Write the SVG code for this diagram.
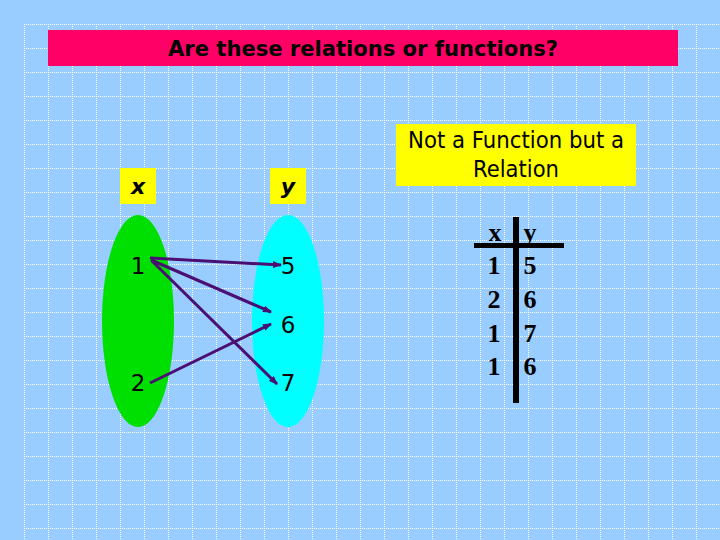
<svg xmlns="http://www.w3.org/2000/svg" width="720" height="540" viewBox="0 0 720 540">
<defs>
<pattern id="grid" x="0" y="0" width="24" height="24" patternUnits="userSpaceOnUse">
<line x1="0" y1="0.5" x2="24" y2="0.5" stroke="#FFFFFF" stroke-width="1" stroke-dasharray="1,1"/>
<line x1="0.5" y1="0" x2="0.5" y2="24" stroke="#FFFFFF" stroke-width="1" stroke-dasharray="1,1"/>
</pattern>
<marker id="ah" markerWidth="9" markerHeight="7" refX="8" refY="3.5" orient="auto" markerUnits="userSpaceOnUse">
<path d="M0,0 L9,3.5 L0,7 Z" fill="#4B0F73"/>
</marker>
<style>
.lbl{font-family:"DejaVu Sans",Verdana,sans-serif;font-size:23px;fill:#000;text-anchor:middle}
.tbl{font-family:"Liberation Serif","Times New Roman",serif;font-weight:bold;font-size:26px;fill:#000;text-anchor:middle}
.arr{stroke:#4B0F73;stroke-width:3;fill:none;marker-end:url(#ah)}
.yel{fill:#FFFF00}
</style>
</defs>
<rect x="0" y="0" width="720" height="540" fill="#99CCFF"/>
<rect x="0" y="0" width="720" height="540" fill="url(#grid)" transform="translate(24,24)"/>
<rect x="0" y="0" width="24" height="540" fill="#99CCFF"/>
<rect x="0" y="0" width="720" height="24" fill="#99CCFF"/>

<g id="title">
<rect x="48" y="30" width="630" height="36" fill="#FF0066"/>
<text x="363" y="56" font-family="DejaVu Sans,Verdana,sans-serif" font-weight="bold" font-size="21" text-anchor="middle" textLength="390" lengthAdjust="spacingAndGlyphs" fill="#000">Are these relations or functions?</text>
</g>

<g id="x-label">
<rect class="yel" x="120" y="168" width="36" height="36"/>
<text x="138" y="194" font-family="DejaVu Sans,Verdana,sans-serif" font-weight="bold" font-style="italic" font-size="22" text-anchor="middle">x</text>
</g>
<g id="y-label">
<rect class="yel" x="270" y="168" width="36" height="36"/>
<text x="288" y="194" font-family="DejaVu Sans,Verdana,sans-serif" font-weight="bold" font-style="italic" font-size="22" text-anchor="middle">y</text>
</g>

<g id="domain">
<ellipse cx="138" cy="321" rx="36" ry="106" fill="#00E000"/>
<text class="lbl" x="138" y="274">1</text>
<text class="lbl" x="138" y="391">2</text>
</g>
<g id="range">
<ellipse cx="288" cy="321" rx="36" ry="106" fill="#00FFFF"/>
<text class="lbl" x="288" y="274">5</text>
<text class="lbl" x="288" y="333">6</text>
<text class="lbl" x="288" y="391">7</text>
</g>

<g id="connectors">
<line class="arr" x1="150" y1="258" x2="281" y2="265"/>
<line class="arr" x1="151" y1="260" x2="271" y2="312"/>
<line class="arr" x1="152" y1="261" x2="277" y2="384"/>
<line class="arr" x1="150" y1="383" x2="271" y2="324"/>
</g>

<g id="verdict">
<rect class="yel" x="396" y="124" width="240" height="62"/>
<text class="lbl" x="516" y="148" font-size="21" textLength="216" lengthAdjust="spacingAndGlyphs">Not a Function but a</text>
<text class="lbl" x="516" y="177" font-size="21" textLength="86" lengthAdjust="spacingAndGlyphs">Relation</text>
</g>

<g id="table">
<rect x="513" y="217" width="6" height="186" fill="#000"/>
<rect x="474" y="243" width="90" height="5" fill="#000"/>
<text class="tbl" x="495" y="241">x</text>
<text class="tbl" x="530" y="241">y</text>
<text class="tbl" x="494" y="274">1</text>
<text class="tbl" x="530" y="274">5</text>
<text class="tbl" x="494" y="308">2</text>
<text class="tbl" x="530" y="308">6</text>
<text class="tbl" x="494" y="342">1</text>
<text class="tbl" x="530" y="342">7</text>
<text class="tbl" x="494" y="375">1</text>
<text class="tbl" x="530" y="375">6</text>
</g>
</svg>
